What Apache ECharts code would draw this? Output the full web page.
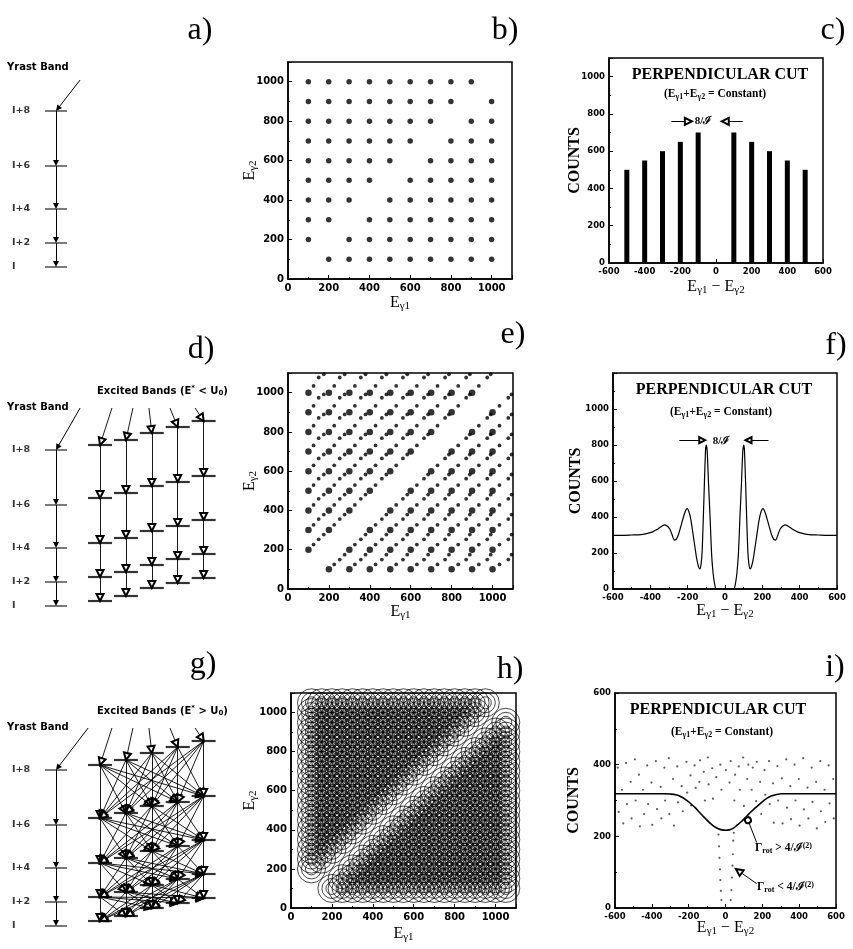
<!DOCTYPE html>
<html><head><meta charset="utf-8">
<script src="https://cdn.jsdelivr.net/npm/echarts@6/dist/echarts.min.js"></script>
<style>html,body{margin:0;padding:0;background:#fff}#c{width:853px;height:949px}</style>
</head><body><div id="c"></div>
<script>
// ================= DATA =================
// level schemes (a, d, g): level energies in arbitrary units (relative to spin I of yrast band)
const yrastSpin = ['I', 'I+2', 'I+4', 'I+6', 'I+8'];
const yrastLevels = [0, 24, 58, 101, 156];
const excitedLevels = [
  [5, 29, 63, 108, 161],
  [10, 34, 68, 113, 166],
  [18, 41, 75, 120, 173],
  [23, 47, 80, 124, 179],
  [28, 52, 86, 130, 185]
];
const bandPos = [0, 1.7, 2.7, 3.7, 4.7, 5.7];          // yrast, excited bands 1..5
const yrastFeedA = [0.93, 187];
const yrastFeedD = [0.93, 198];
const yrastFeedG = [1.24, 198];
const excitedFeedX = [2.16, 2.97, 3.59, 4.40, 5.37];
const excitedFeedY = 198;

// gamma-ray transition energies (keV-like units)
const yrastGamma = [100, 200, 300, 400, 500, 600, 700, 800, 900, 1000];
const eBandA = [125, 226, 327, 428, 529, 630, 731, 832, 933, 1034];
const eBandB = [150, 253, 356, 459, 562, 665, 768, 871, 974, 1077];
const eBandC = [175, 277, 379, 481, 583, 685, 787, 889, 991, 1093];
const hMixed = [100, 150, 200, 250, 300, 350, 400, 450, 500, 550, 600, 650, 700, 750, 800, 850, 900, 950, 1000, 1050];

// panel c
const cutX = [-500, -400, -300, -200, -100, 100, 200, 300, 400, 500];
const cutCounts = [500, 550, 600, 650, 700, 700, 650, 600, 550, 500];

// panel f
const fX = [-600,-550,-500,-450,-420,-390,-365,-345,-325,-310,-295,-283,-272,-262,-250,-240,-228,-215,-203,-192,-182,-172,-162,-152,-142,-135,-128,-122,-116,-110,-104,-100,-95,-88,-80,-72,-64,-56,-48,
  -40,-20,0,20,40,
  48,56,64,72,80,88,95,100,104,110,116,122,128,135,142,152,162,172,182,192,203,215,228,240,250,262,272,283,295,310,325,345,365,390,420,450,500,550,600];
const fY = [298,298,300,302,308,316,330,345,356,350,332,300,272,275,300,335,380,425,446,425,380,310,240,170,125,112,140,217,400,600,776,800,760,580,400,198,90,30,0,
  0,0,0,0,0,
  0,30,90,198,400,580,760,800,776,600,400,217,140,112,125,170,240,310,380,425,446,425,380,335,300,275,272,300,332,350,356,345,330,316,308,302,300,298,298];

// panel i
const iX = [-600,-500,-400,-330,-300,-270,-247,-220,-193,-165,-138,-110,-84,-60,-39,-20,0,20,43,65,88,115,142,170,196,224,251,278,305,330,400,500,600];
const iY = [319,319,319,319,318,316,312,304,293,280,265,250,237,227,221,218,217,218,223,232,242,256,270,283,295,306,313,317,319,319,319,319,319];
const iDots = [[-585,392],[-580,268],[-562,330],[-555,236],[-540,405],[-535,290],[-515,352],[-510,250],[-492,415],[-488,300],
  [-470,372],[-465,228],[-448,330],[-442,262],[-425,398],[-420,290],[-402,350],[-398,232],[-378,410],[-372,276],
  [-352,338],[-348,250],[-332,392],[-328,300],[-308,418],[-305,262],[-285,360],[-280,230],[-262,395],[-258,295],
  [-238,340],[-232,270],[-212,408],[-208,322],[-190,370],[-186,286],[-168,398],[-162,335],[-142,352],[-138,412],
  [-118,380],[-112,300],[-96,420],[-92,345],[-72,390],[-68,305],[-50,365],[-28,400],[-22,330],[2,385],
  [22,350],[28,410],[48,300],[52,372],[72,395],[78,330],[96,420],[100,285],[118,360],[124,400],
  [142,330],[148,392],[166,298],[170,408],[188,352],[194,262],[212,385],[216,316],[236,410],[240,290],
  [258,348],[262,238],[282,396],[286,300],[306,362],[310,236],[330,415],[334,280],[352,340],[356,248],
  [375,400],[380,300],[398,360],[402,230],[422,418],[426,275],[445,336],[450,250],[468,392],[472,296],
  [492,352],[496,222],[515,410],[518,270],[538,330],[542,240],[560,398],[565,292],[585,360],[588,250],
  [-35,172],[-33,140],[-30,108],[-28,78],[-25,48],[-22,22],[28,22],[32,50],[35,85],[38,118],[40,150],[42,188],[-38,205],[45,210]];

// ================= BUILD =================
const SERIF = '"Liberation Serif", "DejaVu Serif", serif';
const SANS = '"DejaVu Sans", sans-serif';
const SX = 25.9; // px per band-position unit in scheme grids (y: 1 unit = 1 px)
function shorten(p0, p1, d) {
  const dx = (p1[0] - p0[0]) * SX, dy = p1[1] - p0[1];
  const L = Math.hypot(dx, dy) || 1;
  return [p1[0] - dx / L * d / SX, p1[1] - dy / L * d];
}
function pairs(list) {
  const out = [];
  for (let i = 0; i < list.length; i++) for (let j = 0; j < list.length; j++)
    if (i !== j && list[i] <= 1098 && list[j] <= 1098) out.push([list[i], list[j]]);
  return out;
}

const grids = [
  {left: 0, top: 40, width: 250, height: 240},      // 0 a
  {left: 0, top: 370, width: 250, height: 245},     // 1 d
  {left: 0, top: 690, width: 250, height: 245},     // 2 g
  {left: 288, top: 62, width: 224, height: 217},    // 3 b
  {left: 609, top: 58, width: 214, height: 205},    // 4 c
  {left: 288, top: 373, width: 225, height: 216},   // 5 e
  {left: 613, top: 373, width: 224, height: 216},   // 6 f
  {left: 291, top: 693, width: 225, height: 215},   // 7 h
  {left: 615, top: 693, width: 221, height: 215}    // 8 i
].map((g, i) => Object.assign(g, i < 3 ? {show: false} : {show: true, borderColor: '#000', borderWidth: 1.5, backgroundColor: '#fff'}));

const xAxes = [], yAxes = [];
const schemeY = [[-13, 227], [-9, 236], [-9, 236]];
for (let k = 0; k < 3; k++) {
  xAxes.push({gridIndex: k, type: 'value', show: false, min: -56 / SX, max: 194 / SX});
  yAxes.push({gridIndex: k, type: 'value', show: false, min: schemeY[k][0], max: schemeY[k][1]});
}
const richE = {
  e: {fontFamily: SERIF, fontSize: 16, lineHeight: 18, color: '#000'},
  s: {fontFamily: SERIF, fontSize: 11, lineHeight: 11, verticalAlign: 'bottom', color: '#000'}
};
function mkAxis(gi, min, max, interval, labMax, fs, name, gap, nameStyle, rot) {
  return {
    gridIndex: gi, type: 'value', min, max, interval,
    axisLine: {show: true, onZero: false, lineStyle: {color: '#000', width: 1.5}},
    axisTick: {show: true, inside: true, length: 4, lineStyle: {color: '#000', width: 1}},
    minorTick: {show: true, splitNumber: 2, length: 2, lineStyle: {color: '#000', width: 1}},
    splitLine: {show: false}, minorSplitLine: {show: false},
    axisLabel: {color: '#000', fontFamily: SANS, fontWeight: 'bold', fontSize: fs, margin: 4,
      showMinLabel: true, showMaxLabel: true,
      formatter: v => (v <= labMax ? String(v) : '')},
    name, nameLocation: 'middle', nameGap: gap, nameRotate: rot, nameMoveOverlap: false,
    nameTextStyle: nameStyle
  };
}
const gName = (n) => '{e|E}{s|γ' + n + '}';
const diffName = '{e|E}{s|γ1}{e| − E}{s|γ2}';
const countsStyle = {fontFamily: SERIF, fontWeight: 'bold', fontSize: 16, color: '#000'};
// b
xAxes.push(mkAxis(3, 0, 1100, 200, 1000, 10, gName(1), 15, {rich: richE}));
yAxes.push(mkAxis(3, 0, 1100, 200, 1000, 10, gName(2), 29, {rich: richE}, 90));
// c
xAxes.push(mkAxis(4, -600, 600, 200, 600, 8.5, diffName, 15, {rich: richE}));
yAxes.push(mkAxis(4, 0, 1100, 200, 1000, 8.5, 'COUNTS', 26, countsStyle, 90));
// e
xAxes.push(mkAxis(5, 0, 1100, 200, 1000, 10, gName(1), 14, {rich: richE}));
yAxes.push(mkAxis(5, 0, 1100, 200, 1000, 10, gName(2), 29, {rich: richE}, 90));
// f
xAxes.push(mkAxis(6, -600, 600, 200, 600, 8.5, diffName, 13, {rich: richE}));
yAxes.push(mkAxis(6, 0, 1200, 200, 1000, 8.5, 'COUNTS', 29, countsStyle, 90));
// h
xAxes.push(mkAxis(7, 0, 1100, 200, 1000, 10, gName(1), 17, {rich: richE}));
yAxes.push(mkAxis(7, 0, 1100, 200, 1000, 10, gName(2), 32, {rich: richE}, 90));
// i
xAxes.push(mkAxis(8, -600, 600, 200, 600, 8.5, diffName, 11, {rich: richE}));
yAxes.push(mkAxis(8, 0, 600, 200, 600, 8.5, 'COUNTS', 33, countsStyle, 90));

const series = [];
const lvLabel = {show: true, position: [-33, 0], align: 'left', verticalAlign: 'middle',
  fontFamily: SANS, fontWeight: 'bold', fontSize: 9.5, color: '#000'};
function buildScheme(gi, yFeed, mode) {
  const ax = {xAxisIndex: gi, yAxisIndex: gi, silent: true};
  series.push(Object.assign({}, ax, {type: 'scatter', symbol: 'rect', symbolSize: [22, 1.3], z: 3,
    itemStyle: {color: '#000'}, label: Object.assign({}, lvLabel, {formatter: p => yrastSpin[p.dataIndex]}),
    data: yrastLevels.map(e => [bandPos[0], e])}));
  const tr = [];
  for (let k = yrastLevels.length - 1; k > 0; k--) {
    const p0 = [bandPos[0], yrastLevels[k]], p1 = [bandPos[0], yrastLevels[k - 1]];
    tr.push({coords: [p0, shorten(p0, p1, 3)]});
  }
  tr.push({coords: [yFeed, shorten(yFeed, [bandPos[0], yrastLevels[4]], 3)]});
  series.push(Object.assign({}, ax, {type: 'lines', coordinateSystem: 'cartesian2d', z: 2,
    symbol: ['none', 'triangle'], symbolSize: [1, 6],
    lineStyle: {color: '#000', width: 1, opacity: 1, curveness: 0}, data: tr}));
  if (!mode) return;
  series.push(Object.assign({}, ax, {type: 'scatter', symbol: 'rect', symbolSize: [24, 2.2], z: 4,
    itemStyle: {color: '#000'},
    data: excitedLevels.flatMap((lv, b) => lv.map(e => [bandPos[b + 1], e]))}));
  const et = [];
  excitedLevels.forEach((lv, b) => {
    const x = bandPos[b + 1];
    const st = [excitedFeedX[b], excitedFeedY];
    et.push({coords: [st, shorten(st, [x, lv[4]], 3.5)]});
    for (let k = lv.length - 1; k > 0; k--) {
      if (mode === 'pure') {
        const p0 = [x, lv[k]], p1 = [x, lv[k - 1]];
        et.push({coords: [p0, shorten(p0, p1, 3.5)]});
      } else {
        excitedLevels.forEach((lv2, m) => {
          const p0 = [x, lv[k]], p1 = [bandPos[m + 1], lv2[k - 1]];
          et.push({coords: [p0, shorten(p0, p1, 3.5)]});
        });
      }
    }
  });
  series.push(Object.assign({}, ax, {type: 'lines', coordinateSystem: 'cartesian2d', z: 2,
    symbol: ['none', 'emptyTriangle'], symbolSize: [1, 7],
    lineStyle: {color: '#000', width: 0.9, opacity: 1, curveness: 0}, data: et}));
}
buildScheme(0, yrastFeedA, null);
buildScheme(1, yrastFeedD, 'pure');
buildScheme(2, yrastFeedG, 'mixed');

// b
series.push({type: 'scatter', xAxisIndex: 3, yAxisIndex: 3, symbolSize: 5.5, itemStyle: {color: '#000'}, silent: true,
  data: pairs(yrastGamma)});
// c
series.push({type: 'bar', xAxisIndex: 4, yAxisIndex: 4, barWidth: 5, itemStyle: {color: '#000'}, silent: true,
  data: cutX.map((x, i) => [x, cutCounts[i]])});
series.push({type: 'lines', coordinateSystem: 'cartesian2d', xAxisIndex: 4, yAxisIndex: 4, silent: true,
  symbol: ['none', 'emptyTriangle'], symbolSize: [1, 7], lineStyle: {color: '#000', width: 1, opacity: 1},
  data: [{coords: [[-250, 760], [-155, 760]]}, {coords: [[150, 760], [52, 760]]}]});
// e
series.push({type: 'scatter', xAxisIndex: 5, yAxisIndex: 5, symbolSize: 6.5, itemStyle: {color: '#000'}, silent: true,
  data: pairs(yrastGamma)});
series.push({type: 'scatter', xAxisIndex: 5, yAxisIndex: 5, symbolSize: 3.8, itemStyle: {color: '#000'}, silent: true,
  data: [].concat(pairs(eBandA), pairs(eBandB), pairs(eBandC))});
// f
series.push({type: 'line', xAxisIndex: 6, yAxisIndex: 6, showSymbol: false, smooth: 0.2, silent: true,
  lineStyle: {color: '#000', width: 1.2}, data: fX.map((x, i) => [x, fY[i]])});
series.push({type: 'lines', coordinateSystem: 'cartesian2d', xAxisIndex: 6, yAxisIndex: 6, silent: true,
  symbol: ['none', 'emptyTriangle'], symbolSize: [1, 6], lineStyle: {color: '#000', width: 1, opacity: 1},
  data: [{coords: [[-245, 827], [-122, 827]]}, {coords: [[233, 827], [126, 827]]}]});
// h : mixed (damped) bands, all energy combinations away from the diagonal
const hPts = [];
hMixed.forEach(a => hMixed.forEach(b => { if (Math.abs(a - b) >= 90) hPts.push([a, b]); }));
[12, 20, 28].forEach(sz => series.push({type: 'scatter', xAxisIndex: 7, yAxisIndex: 7, symbol: 'circle', symbolSize: sz,
  silent: true, progressive: 0, itemStyle: {color: 'rgba(0,0,0,0)', borderColor: '#000', borderWidth: 0.9}, data: hPts}));
// i
series.push({type: 'scatter', xAxisIndex: 8, yAxisIndex: 8, symbolSize: 2.2, itemStyle: {color: '#333'}, silent: true, data: iDots});
series.push({type: 'line', xAxisIndex: 8, yAxisIndex: 8, showSymbol: false, smooth: 0.3, silent: true,
  lineStyle: {color: '#000', width: 1.6}, data: iX.map((x, i) => [x, iY[i]])});
series.push({type: 'lines', coordinateSystem: 'cartesian2d', xAxisIndex: 8, yAxisIndex: 8, silent: true,
  symbol: ['none', 'emptyCircle'], symbolSize: [1, 6], lineStyle: {color: '#000', width: 1, opacity: 1},
  data: [{coords: [[169, 183], [122, 245]]}]});
series.push({type: 'lines', coordinateSystem: 'cartesian2d', xAxisIndex: 8, yAxisIndex: 8, silent: true,
  symbol: ['none', 'emptyTriangle'], symbolSize: [1, 7], lineStyle: {color: '#000', width: 1, opacity: 1},
  data: [{coords: [[169, 68], [72, 103]]}]});

// ----- texts -----
const graphics = [];
function txt(x, y, text, extra) {
  graphics.push({type: 'text', x, y, silent: true, z: 100,
    style: Object.assign({text, fill: '#000', align: 'center', verticalAlign: 'middle'}, extra)});
}
const big = {font: '32px ' + SERIF};
[['a)', 200, 31], ['b)', 505, 31], ['c)', 833, 31], ['d)', 201, 350], ['e)', 513, 335], ['f)', 836, 346],
 ['g)', 203, 665], ['h)', 510, 670], ['i)', 835, 668]].forEach(t => txt(t[1], t[2], t[0], big));
const smallBold = {font: 'bold 10px ' + SANS, align: 'left'};
[67, 407, 727].forEach(y => txt(7, y, 'Yrast Band', smallBold));
const richExc = {
  n: {fontFamily: SANS, fontWeight: 'bold', fontSize: 10, lineHeight: 12, color: '#000'},
  u: {fontFamily: SANS, fontWeight: 'bold', fontSize: 7, lineHeight: 7, verticalAlign: 'top', color: '#000'},
  d: {fontFamily: SANS, fontWeight: 'bold', fontSize: 7, lineHeight: 7, verticalAlign: 'bottom', color: '#000'}
};
txt(97, 391, '{n|Excited Bands (E}{u|*}{n| < U}{d|0}{n|)}', {rich: richExc, align: 'left'});
txt(97, 711, '{n|Excited Bands (E}{u|*}{n| > U}{d|0}{n|)}', {rich: richExc, align: 'left'});

const titleFont = {font: 'bold 16px ' + SERIF};
const richSub = {
  n: {fontFamily: SERIF, fontWeight: 'bold', fontSize: 11.5, lineHeight: 13, color: '#000'},
  s: {fontFamily: SERIF, fontWeight: 'bold', fontSize: 8, lineHeight: 8, verticalAlign: 'bottom', color: '#000'},
  p: {fontFamily: SERIF, fontWeight: 'bold', fontSize: 8, lineHeight: 8, verticalAlign: 'top', color: '#000'}
};
const subTitle = '{n|(E}{s|γ1}{n|+E}{s|γ2}{n| = Constant)}';
[[720, 75, 715, 94], [724, 390, 721, 412], [718, 710, 722, 732]].forEach(t => {
  txt(t[0], t[1], 'PERPENDICULAR CUT', titleFont);
  txt(t[2], t[3], subTitle, {rich: richSub});
});
const ratioFont = {font: 'bold 11px ' + SERIF};
txt(703, 121, '8/ℐ', ratioFont);
txt(721, 441, '8/ℐ', ratioFont);
txt(755, 848, '{n|Γ}{s|rot}{n| > 4/ℐ}{p|(2)}', {rich: richSub, align: 'left'});
txt(757, 887, '{n|Γ}{s|rot}{n| < 4/ℐ}{p|(2)}', {rich: richSub, align: 'left'});

const chart = echarts.init(document.getElementById('c'), null, {renderer: 'canvas'});
chart.setOption({
  backgroundColor: '#fff', animation: false,
  grid: grids, xAxis: xAxes, yAxis: yAxes, series, graphic: graphics
});
</script></body></html>
